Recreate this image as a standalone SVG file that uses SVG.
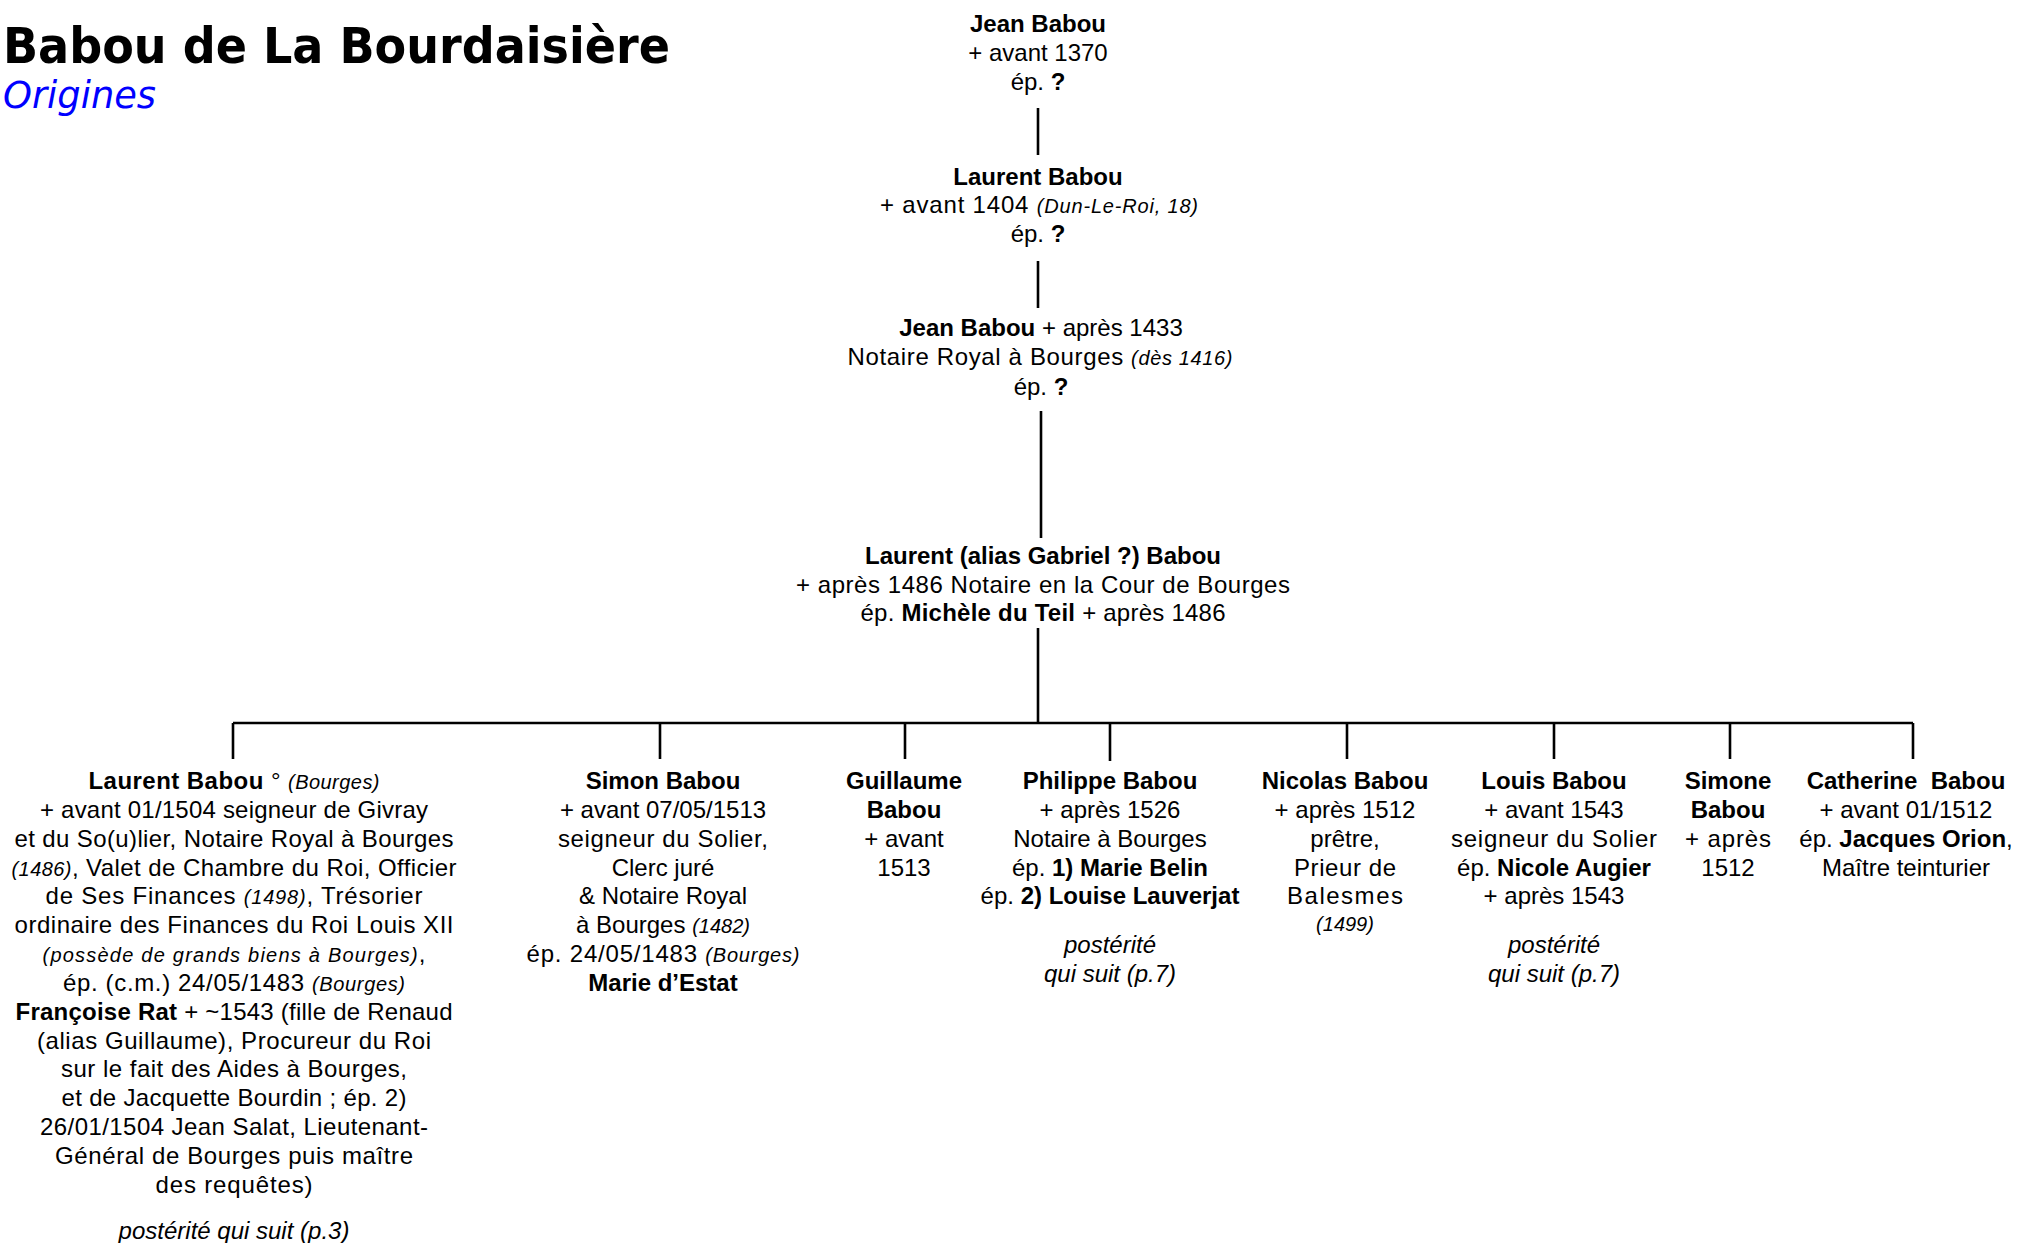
<svg xmlns="http://www.w3.org/2000/svg" width="2017" height="1243" viewBox="0 0 2017 1243">
<style>
.t{font-family:"Liberation Sans",Arial,sans-serif;font-size:24px;text-anchor:middle;fill:#000}
.b{font-weight:bold}
.i{font-style:italic;font-size:20px}
.p{font-style:italic}
.ln{stroke:#000;stroke-width:2.6;fill:none}
.title{font-family:"DejaVu Sans",Verdana,sans-serif;font-weight:bold;font-size:50px;fill:#000}
.sub{font-family:"DejaVu Sans",Verdana,sans-serif;font-style:italic;font-size:37px;fill:#0000ff}
</style>
<rect width="2017" height="1243" fill="#fff"/>
<g id="header">
<text class="title" x="3" y="63" textLength="667" lengthAdjust="spacingAndGlyphs">Babou de La Bourdaisière</text>
<text class="sub" x="3" y="108" textLength="153" lengthAdjust="spacingAndGlyphs">Origines</text>
</g>
<g id="connectors">
<path class="ln" d="M1038 108V155"/>
<path class="ln" d="M1038 261V308"/>
<path class="ln" d="M1041 411V538"/>
<path class="ln" d="M1038 628V723"/>
<path class="ln" d="M233 723H1913"/>
<path class="ln" d="M233 723V759M660 723V759M905 723V759M1110 723V761M1347 723V759M1554 723V759M1730 723V759M1913 723V759"/>
</g>
<g id="n1" class="t">
<text x="1038" y="32" class="b">Jean Babou</text>
<text x="1038" y="61">+ avant 1370</text>
<text x="1038" y="90">ép. <tspan class="b">?</tspan></text>
</g>
<g id="n2" class="t">
<text x="1038" y="185" class="b">Laurent Babou</text>
<text x="1039" y="213" textLength="318">+ avant 1404 <tspan class="i" font-size="21">(Dun-Le-Roi, 18)</tspan></text>
<text x="1038" y="242">ép. <tspan class="b">?</tspan></text>
</g>
<g id="n3" class="t">
<text x="1041" y="336"><tspan class="b">Jean Babou</tspan> + après 1433</text>
<text x="1040" y="365" textLength="385">Notaire Royal à Bourges <tspan class="i" font-size="21">(dès 1416)</tspan></text>
<text x="1041" y="395">ép. <tspan class="b">?</tspan></text>
</g>
<g id="n4" class="t">
<text x="1043" y="564" class="b">Laurent (alias Gabriel ?) Babou</text>
<text x="1043" y="593" textLength="494">+ après 1486 Notaire en la Cour de Bourges</text>
<text x="1043" y="621" textLength="365">ép. <tspan class="b">Michèle du Teil</tspan> + après 1486</text>
</g>
<g id="c1" class="t">
<text x="234" y="789" textLength="291"><tspan class="b">Laurent Babou</tspan> ° <tspan class="i">(Bourges)</tspan></text>
<text x="234" y="818" textLength="388">+ avant 01/1504 seigneur de Givray</text>
<text x="234" y="847" textLength="439">et du So(u)lier, Notaire Royal à Bourges</text>
<text x="234" y="876" textLength="445"><tspan class="i">(1486)</tspan>, Valet de Chambre du Roi, Officier</text>
<text x="234" y="904" textLength="377">de Ses Finances <tspan class="i">(1498)</tspan>, Trésorier</text>
<text x="234" y="933" textLength="439">ordinaire des Finances du Roi Louis XII</text>
<text x="234" y="962" textLength="383"><tspan class="i">(possède de grands biens à Bourges)</tspan>,</text>
<text x="234" y="991" textLength="342">ép. (c.m.) 24/05/1483 <tspan class="i">(Bourges)</tspan></text>
<text x="234" y="1020" textLength="437"><tspan class="b">Françoise Rat</tspan> + ~1543 (fille de Renaud</text>
<text x="234" y="1049" textLength="394">(alias Guillaume), Procureur du Roi</text>
<text x="234" y="1077" textLength="346">sur le fait des Aides à Bourges,</text>
<text x="234" y="1106" textLength="345">et de Jacquette Bourdin ; ép. 2)</text>
<text x="234" y="1135" textLength="388">26/01/1504 Jean Salat, Lieutenant-</text>
<text x="234" y="1164" textLength="358">Général de Bourges puis maître</text>
<text x="234" y="1193" textLength="157">des requêtes)</text>
<text x="234" y="1239" class="p">postérité qui suit (p.3)</text>
</g>
<g id="c2" class="t">
<text x="663" y="789" class="b">Simon Babou</text>
<text x="663" y="818">+ avant 07/05/1513</text>
<text x="663" y="847" textLength="210">seigneur du Solier,</text>
<text x="663" y="876">Clerc juré</text>
<text x="663" y="904">&amp; Notaire Royal</text>
<text x="663" y="933">à Bourges <tspan class="i">(1482)</tspan></text>
<text x="663" y="962" textLength="273">ép. 24/05/1483 <tspan class="i">(Bourges)</tspan></text>
<text x="663" y="991" class="b">Marie d’Estat</text>
</g>
<g id="c3" class="t">
<text x="904" y="789" class="b">Guillaume</text>
<text x="904" y="818" class="b">Babou</text>
<text x="904" y="847">+ avant</text>
<text x="904" y="876">1513</text>
</g>
<g id="c4" class="t">
<text x="1110" y="789" class="b">Philippe Babou</text>
<text x="1110" y="818">+ après 1526</text>
<text x="1110" y="847">Notaire à Bourges</text>
<text x="1110" y="876">ép. <tspan class="b">1) Marie Belin</tspan></text>
<text x="1110" y="904">ép. <tspan class="b">2) Louise Lauverjat</tspan></text>
<text x="1110" y="953" class="p">postérité</text>
<text x="1110" y="982" class="p">qui suit (p.7)</text>
</g>
<g id="c5" class="t">
<text x="1345" y="789" class="b">Nicolas Babou</text>
<text x="1345" y="818">+ après 1512</text>
<text x="1345" y="847">prêtre,</text>
<text x="1345" y="876" textLength="102">Prieur de</text>
<text x="1345" y="904" textLength="116">Balesmes</text>
<text x="1345" y="931" class="i">(1499)</text>
</g>
<g id="c6" class="t">
<text x="1554" y="789" class="b">Louis Babou</text>
<text x="1554" y="818">+ avant 1543</text>
<text x="1554" y="847" textLength="206">seigneur du Solier</text>
<text x="1554" y="876">ép. <tspan class="b">Nicole Augier</tspan></text>
<text x="1554" y="904">+ après 1543</text>
<text x="1554" y="953" class="p">postérité</text>
<text x="1554" y="982" class="p">qui suit (p.7)</text>
</g>
<g id="c7" class="t">
<text x="1728" y="789" class="b">Simone</text>
<text x="1728" y="818" class="b">Babou</text>
<text x="1728" y="847" textLength="86">+ après</text>
<text x="1728" y="876">1512</text>
</g>
<g id="c8" class="t">
<text x="1906" y="789" class="b" xml:space="preserve">Catherine  Babou</text>
<text x="1906" y="818">+ avant 01/1512</text>
<text x="1906" y="847">ép. <tspan class="b">Jacques Orion</tspan>,</text>
<text x="1906" y="876">Maître teinturier</text>
</g>
</svg>
